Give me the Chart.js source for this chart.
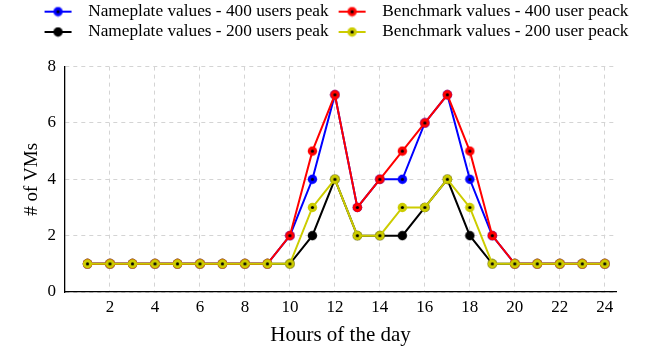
<!DOCTYPE html>
<html>
<head>
<meta charset="utf-8">
<script src="https://cdn.jsdelivr.net/npm/chart.js@4"></script>
<style>
  html, body { margin: 0; padding: 0; background: #fff; }
</style>
</head>
<body>
<canvas id="myChart" width="652" height="350"></canvas>
<script>
// data
const hours = [1, 2, 3, 4, 5, 6, 7, 8, 9, 10, 11, 12, 13, 14, 15, 16, 17, 18, 19, 20, 21, 22, 23, 24];
const nameplate400 = [1, 1, 1, 1, 1, 1, 1, 1, 1, 2, 4, 7, 3, 4, 4, 6, 7, 4, 2, 1, 1, 1, 1, 1];
const benchmark400 = [1, 1, 1, 1, 1, 1, 1, 1, 1, 2, 5, 7, 3, 4, 5, 6, 7, 5, 2, 1, 1, 1, 1, 1];
const nameplate200 = [1, 1, 1, 1, 1, 1, 1, 1, 1, 1, 2, 4, 2, 2, 2, 3, 4, 2, 1, 1, 1, 1, 1, 1];
const benchmark200 = [1, 1, 1, 1, 1, 1, 1, 1, 1, 1, 3, 4, 2, 2, 3, 3, 4, 3, 1, 1, 1, 1, 1, 1];
const seriesLabels = [
  "Nameplate values - 400 users peak",
  "Benchmark values - 400 user peack",
  "Nameplate values - 200 users peak",
  "Benchmark values - 200 user peack",
];
const xTicks = [2, 4, 6, 8, 10, 12, 14, 16, 18, 20, 22, 24];
const yTicks = [0, 2, 4, 6, 8];

const FONT = "'Liberation Serif', 'DejaVu Serif', serif";

// circle marker with a small black dot in the middle (pgfplots look)
function makeMarker(color, dot) {
  const c = document.createElement("canvas");
  c.width = 11; c.height = 11;
  const g = c.getContext("2d");
  g.beginPath(); g.arc(5.5, 5.5, 4.7, 0, Math.PI * 2);
  g.fillStyle = color; g.fill();
  if (dot) {
    g.beginPath(); g.arc(5.5, 5.5, 1.6, 0, Math.PI * 2);
    g.fillStyle = "#000"; g.fill();
  }
  return c;
}

// legend sample: short line with the marker on it
function makeLegendMarker(color, dot) {
  const c = document.createElement("canvas");
  c.width = 42; c.height = 12;
  const g = c.getContext("2d");
  g.strokeStyle = color; g.lineWidth = 2;
  g.beginPath(); g.moveTo(7, 6); g.lineTo(34, 6); g.stroke();
  g.drawImage(makeMarker(color, dot), 15, 0.5);
  return c;
}

const colors = ["#0000ff", "#ff0000", "#000000", "#cccc00"];
const dots = [true, true, false, true];
const values = [nameplate400, benchmark400, nameplate200, benchmark200];
const drawOrder = [4, 2, 3, 1]; // yellow on top, then red, black, blue

const datasets = values.map((v, i) => ({
  label: seriesLabels[i],
  data: hours.map((h, j) => ({ x: h, y: v[j] })),
  borderColor: colors[i],
  backgroundColor: colors[i],
  borderWidth: 2,
  pointStyle: makeMarker(colors[i], dots[i]),
  pointRadius: 4.5,
  order: drawOrder[i],
}));
const legendMarkers = colors.map((c, i) => makeLegendMarker(c, dots[i]));

// legend is centered over the plot area in the original and sits higher above it
const legendTweak = {
  id: "legendTweak",
  afterInit(chart) {
    const lg = chart.legend;
    const fit = lg.fit;
    lg.fit = function () { fit.call(this); this.height += 16; };
    const draw = lg.draw;
    lg.draw = function (area) {
      const ctx = this.ctx;
      ctx.save(); ctx.translate(25, 0);
      draw.call(this, area);
      ctx.restore();
    };
  },
};

new Chart(document.getElementById("myChart"), {
  type: "line",
  data: { datasets: datasets },
  plugins: [legendTweak],
  options: {
    responsive: false,
    animation: false,
    layout: { padding: { top: 0, right: 36, left: 0, bottom: 0 } },
    plugins: {
      tooltip: { enabled: false },
      legend: {
        position: "top",
        labels: {
          usePointStyle: true,
          pointStyleWidth: 42,
          padding: 3,
          color: "#000",
          font: { family: FONT, size: 17.3, lineHeight: 1 },
          sort: (a, b) => a.datasetIndex - b.datasetIndex,
          generateLabels(chart) {
            const items = Chart.defaults.plugins.legend.labels.generateLabels(chart);
            items.forEach((it) => { it.pointStyle = legendMarkers[it.datasetIndex]; });
            return items;
          },
        },
      },
    },
    scales: {
      x: {
        type: "linear",
        min: 0,
        max: 24.5,
        afterBuildTicks: (s) => { s.ticks = xTicks.map((v) => ({ value: v })); },
        afterFit: (s) => { s.height = 58; },
        ticks: { color: "#000", padding: 5, font: { family: FONT, size: 17 } },
        grid: { color: "#d4d4d4", drawTicks: false },
        border: { color: "#000", width: 1.3, dash: [4, 4] },
        title: {
          display: true, text: "Hours of the day", color: "#000",
          font: { family: FONT, size: 21 }, padding: { top: 0, bottom: 2 },
        },
      },
      y: {
        min: 0,
        max: 8,
        afterBuildTicks: (s) => { s.ticks = yTicks.map((v) => ({ value: v })); },
        afterFit: (s) => { s.width = 65; },
        ticks: { color: "#000", padding: 9, font: { family: FONT, size: 17 } },
        grid: { color: "#d4d4d4", drawTicks: false },
        border: { color: "#000", width: 1.3, dash: [4, 4] },
        title: {
          display: true, text: "# of VMs", color: "#000",
          font: { family: FONT, size: 19 }, padding: { top: 21, bottom: 0 },
        },
      },
    },
  },
});
</script>
</body>
</html>
